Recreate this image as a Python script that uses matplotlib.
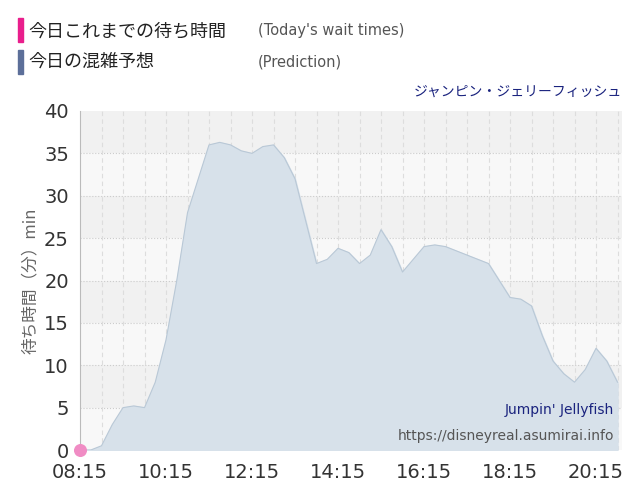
import matplotlib
matplotlib.use("Agg")
import matplotlib.pyplot as plt
import numpy as np

plt.rcParams['font.family'] = ['DejaVu Sans', 'Noto Sans CJK JP']

times = ["08:15","08:30","08:45","09:00","09:15","09:30","09:45","10:00","10:15","10:30","10:45","11:00",
         "11:15","11:30","11:45","12:00","12:15","12:30","12:45","13:00","13:15","13:30","13:45","14:00",
         "14:15","14:30","14:45","15:00","15:15","15:30","15:45","16:00","16:15","16:30","16:45","17:00",
         "17:15","17:30","17:45","18:00","18:15","18:30","18:45","19:00","19:15","19:30","19:45","20:00",
         "20:15","20:30","20:45"]
prediction = [0,0,0.5,3,5,5.2,5,8,13,20,28,32,36,36.3,36,35.3,35,35.8,36,34.5,32,27,22,22.5,
              23.8,23.3,22,23,26,24,21,22.5,24,24.2,24,23.5,23,22.5,22,20,18,17.8,17,13.5,10.5,9,8,9.5,
              12,10.5,8]
actual_times = ["08:15"]
actual = [0]
tick_labels = ["08:15","10:15","12:15","14:15","16:15","18:15","20:15"]

def tomin(t):
    h, m = t.split(":"); return int(h)*60+int(m)

x = np.array([tomin(t) for t in times])
fig = plt.figure(figsize=(6.4,5.0), dpi=100)
ax = fig.add_axes([80/640, 50/500, 542/640, 339/500])
x0, x1 = tomin("08:15"), tomin("08:15")+542/43*60
for i in range(8):
    ax.axhspan(i*5, i*5+5, color='#f8f8f8' if i % 2 == 0 else '#f1f1f1', zorder=0, lw=0)
for v in range(5, 40, 5):
    ax.axhline(v, color='#cccccc', ls=':', lw=0.8, zorder=1)
for v in np.arange(x0+30, x1, 30):
    ax.axvline(v, color='#dddddd', ls=(0,(4,3)), lw=0.8, zorder=1)
ax.fill_between(x, prediction, color='#d7e1ea', zorder=2)
ax.plot(x, prediction, color='#b9c8d6', lw=0.8, zorder=3)
ax.scatter([tomin(t) for t in actual_times], actual, s=70, color='#f08cc4', zorder=5, clip_on=False)
ax.set_xlim(x0, x1); ax.set_ylim(0, 40)
ax.set_xticks([tomin(t) for t in tick_labels]); ax.set_xticklabels(tick_labels)
ax.set_yticks(range(0, 41, 5))
ax.tick_params(axis='both', labelsize=14, length=0, colors='#333333')
ax.tick_params(axis='x', pad=9)
ax.tick_params(axis='y', pad=8)
for s in ['top','right','bottom']:
    ax.spines[s].set_visible(False)
ax.spines['left'].set_color('#bbbbbb')
ax.set_ylabel('待ち時間（分）min', fontsize=12, color='#666666', labelpad=4,
              family=['Noto Sans CJK JP', 'DejaVu Sans'])
ax.text(0.985, 0.105, "Jumpin' Jellyfish", transform=ax.transAxes, ha='right', fontsize=10, color='#1a237e')
ax.text(0.985, 0.03, "https://disneyreal.asumirai.info", transform=ax.transAxes, ha='right', fontsize=10, color='#555555')
cjk = ['Noto Sans CJK JP', 'DejaVu Sans']
fig.text(622/640, 1-92/500, 'ジャンピン・ジェリーフィッシュ', ha='right', va='center', fontsize=10, color='#1a237e', family=cjk)
fig.patches.append(plt.Rectangle((18/640, 1-42/500), 5/640, 24/500, transform=fig.transFigure, color='#e91e8c'))
fig.patches.append(plt.Rectangle((18/640, 1-74/500), 5/640, 24/500, transform=fig.transFigure, color='#5c6f99'))
fig.text(28/640, 1-31/500, '今日これまでの待ち時間', va='center', fontsize=13, color='#222222', family=cjk)
fig.text(28/640, 1-62/500, '今日の混雑予想', va='center', fontsize=13, color='#222222', family=cjk)
fig.text(258/640, 1-31/500, "(Today's wait times)", va='center', fontsize=10.5, color='#555555')
fig.text(258/640, 1-62/500, "(Prediction)", va='center', fontsize=10.5, color='#555555')
fig.savefig('out.png', dpi=100)
